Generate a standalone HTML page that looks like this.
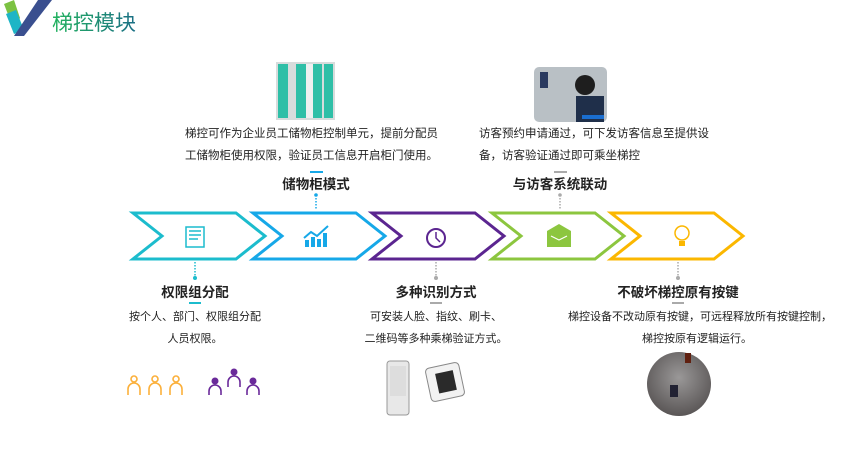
<!DOCTYPE html>
<html><head><meta charset="utf-8"><style>
html,body{margin:0;padding:0;background:#fff;}
svg{display:block}
text{font-family:"Liberation Sans","Noto Sans CJK SC",sans-serif;}
</style></head><body>
<svg width="865" height="454" viewBox="0 0 865 454" xmlns="http://www.w3.org/2000/svg">
<defs>
<linearGradient id="tg" x1="0" x2="1"><stop offset="0" stop-color="#22b35e"/><stop offset="1" stop-color="#1b6f86"/></linearGradient>
<radialGradient id="el" cx="0.5" cy="0.4" r="0.6"><stop offset="0" stop-color="#9a9898"/><stop offset="1" stop-color="#5a5656"/></radialGradient>
</defs>
<polygon points="4,4 14,0 20,18 14,30" fill="#7cc242"/>
<polygon points="6,14 16,10 24,30 14,34" fill="#1eb5c6"/>
<polygon points="38,0 52,0 24,36 14,36" fill="#3a4f8f"/>
<text x="52" y="30" font-size="21" fill="url(#tg)">梯控模块</text>

<rect x="276" y="62" width="59" height="58" fill="#d8dcdc"/>
<g fill="#2fbfa7">
<rect x="278" y="64" width="10" height="54"/><rect x="296" y="64" width="10" height="54"/><rect x="313" y="64" width="9" height="54"/><rect x="324" y="64" width="9" height="54"/>
</g>
<rect x="306" y="64" width="7" height="54" fill="#eef0f0"/>
<rect x="534" y="67" width="73" height="55" rx="5" fill="#b9c0c5"/>
<rect x="540" y="72" width="8" height="16" fill="#2a3a60"/>
<circle cx="585" cy="85" r="10" fill="#1e1e1e"/>
<rect x="576" y="96" width="28" height="26" fill="#1f2f4a"/>
<rect x="582" y="115" width="22" height="4" fill="#1a6ed0"/>

<g font-size="11.5" fill="#222">
<text x="185" y="137">梯控可作为企业员工储物柜控制单元，提前分配员</text>
<text x="185" y="159">工储物柜使用权限，验证员工信息开启柜门使用。</text>
<text x="479" y="137">访客预约申请通过，可下发访客信息至提供设</text>
<text x="479" y="159">备，访客验证通过即可乘坐梯控</text>
</g>
<rect x="310" y="171" width="13" height="2" fill="#16a8e8"/>
<rect x="554" y="171" width="13" height="2" fill="#aaa"/>
<g font-size="13.5" font-weight="bold" fill="#222" text-anchor="middle">
<text x="316" y="189">储物柜模式</text>
<text x="560" y="189">与访客系统联动</text>
<text x="195" y="297">权限组分配</text>
<text x="436" y="297">多种识别方式</text>
<text x="678" y="297">不破坏梯控原有按键</text>
</g>
<circle cx="316" cy="195" r="1.8" fill="#16a8e8"/>
<line x1="316" y1="198" x2="316" y2="210" stroke="#16a8e8" stroke-width="1.5" stroke-dasharray="1.5,1.5"/>
<circle cx="560" cy="195" r="1.8" fill="#aaa"/>
<line x1="560" y1="198" x2="560" y2="210" stroke="#aaa" stroke-width="1.5" stroke-dasharray="1.5,1.5"/>

<g fill="none" stroke-width="3">
<polygon points="133,213 236,213 265,236 236,259 133,259 162,236" stroke="#1cbccd"/>
<polygon points="253,213 356,213 385,236 356,259 253,259 282,236" stroke="#16a8e8"/>
<polygon points="372,213 475,213 504,236 475,259 372,259 401,236" stroke="#5b2590"/>
<polygon points="492,213 595,213 624,236 595,259 492,259 521,236" stroke="#8cc63f"/>
<polygon points="611,213 714,213 743,236 714,259 611,259 640,236" stroke="#fbb700"/>
</g>
<rect x="186" y="227" width="18" height="20" fill="none" stroke="#1cbccd" stroke-width="1.5"/>
<g stroke="#1cbccd" stroke-width="1.5"><line x1="189" y1="231" x2="201" y2="231"/><line x1="189" y1="235" x2="201" y2="235"/><line x1="189" y1="239" x2="198" y2="239"/></g>
<g fill="#16a8e8"><rect x="305" y="240" width="4" height="7"/><rect x="311" y="237" width="4" height="10"/><rect x="317" y="239" width="4" height="8"/><rect x="323" y="233" width="4" height="14"/></g>
<polyline points="304,238 311,232 317,236 328,226" fill="none" stroke="#16a8e8" stroke-width="2"/>
<circle cx="436" cy="238" r="9" fill="none" stroke="#5b2590" stroke-width="2"/>
<polyline points="436,232 436,238 440,242" fill="none" stroke="#5b2590" stroke-width="1.5"/>
<rect x="547" y="231" width="24" height="16" fill="#8cc63f"/>
<polyline points="547,231 559,224 571,231" fill="#8cc63f"/>
<polyline points="551,236 559,240 567,236" fill="none" stroke="#fff" stroke-width="1.2"/>
<circle cx="682" cy="233" r="7" fill="none" stroke="#fbb700" stroke-width="1.5"/>
<rect x="679" y="241" width="6" height="5" fill="#fbb700"/>

<line x1="195" y1="262" x2="195" y2="276" stroke="#1cbccd" stroke-width="1.5" stroke-dasharray="1.5,1.5"/>
<circle cx="195" cy="278" r="2" fill="#1cbccd"/>
<line x1="436" y1="262" x2="436" y2="276" stroke="#aaa" stroke-width="1.5" stroke-dasharray="1.5,1.5"/>
<circle cx="436" cy="278" r="2" fill="#aaa"/>
<line x1="678" y1="262" x2="678" y2="276" stroke="#aaa" stroke-width="1.5" stroke-dasharray="1.5,1.5"/>
<circle cx="678" cy="278" r="2" fill="#aaa"/>
<rect x="189" y="302" width="12" height="2" fill="#1cbccd"/>
<rect x="430" y="302" width="12" height="2" fill="#aaa"/>
<rect x="672" y="302" width="12" height="2" fill="#aaa"/>
<g font-size="11" fill="#222" text-anchor="middle">
<text x="195" y="320">按个人、部门、权限组分配</text>
<text x="195" y="342">人员权限。</text>
<text x="436" y="320">可安装人脸、指纹、刷卡、</text>
<text x="436" y="342">二维码等多种乘梯验证方式。</text>
<text x="700" y="320">梯控设备不改动原有按键，可远程释放所有按键控制，</text>
<text x="697" y="342">梯控按原有逻辑运行。</text>
</g>

<g fill="none" stroke="#fbb03b" stroke-width="1.6">
<circle cx="134" cy="379" r="3"/><path d="M128,395 V389 a6,6 0 0 1 12,0 V395"/>
<circle cx="155" cy="379" r="3"/><path d="M149,395 V389 a6,6 0 0 1 12,0 V395"/>
<circle cx="176" cy="379" r="3"/><path d="M170,395 V389 a6,6 0 0 1 12,0 V395"/>
</g>
<g fill="#6a2a9a"><circle cx="215" cy="381" r="3.5"/><circle cx="234" cy="372" r="3.5"/><circle cx="253" cy="381" r="3.5"/></g>
<g fill="none" stroke="#6a2a9a" stroke-width="1.6">
<path d="M209,395 V391 a6,6 0 0 1 12,0 V395"/>
<path d="M228,387 V382 a6,6 0 0 1 12,0 V387"/>
<path d="M247,395 V391 a6,6 0 0 1 12,0 V395"/>
</g>

<rect x="387" y="361" width="22" height="54" rx="3" fill="#e8e8e8" stroke="#999"/>
<rect x="390" y="366" width="16" height="30" fill="#ddd"/>
<rect x="428" y="365" width="34" height="34" rx="4" fill="#f2f2f2" stroke="#888" transform="rotate(-12 445 382)"/>
<rect x="437" y="372" width="18" height="20" fill="#2a2a2a" transform="rotate(-12 445 382)"/>
<circle cx="679" cy="384" r="32" fill="url(#el)"/>
<rect x="670" y="385" width="8" height="12" fill="#223"/>
<rect x="685" y="353" width="6" height="10" fill="#602010"/>
</svg>
</body></html>
